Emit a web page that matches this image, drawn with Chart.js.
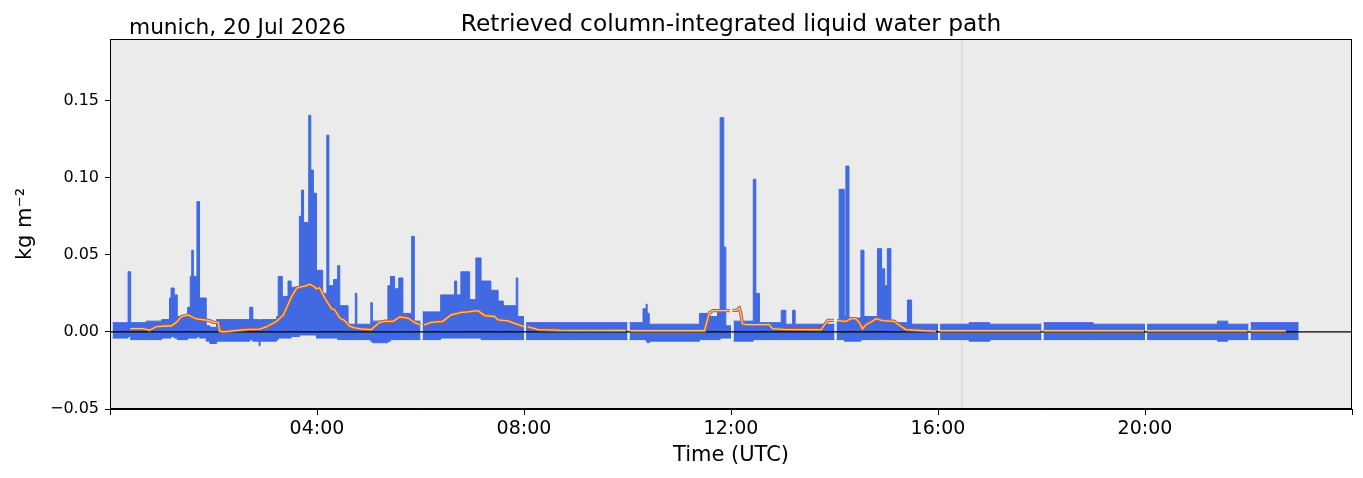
<!DOCTYPE html>
<html>
<head>
<meta charset="utf-8">
<script src="https://cdn.jsdelivr.net/npm/chart.js@4/dist/chart.umd.min.js"></script>
<style>
  html, body { margin: 0; padding: 0; background: #ffffff; }
  #wrap { width: 1363px; height: 478px; position: relative; }
  canvas { display: block; }
</style>
</head>
<body>
<div id="wrap"><canvas id="c" width="1363" height="478"></canvas></div>
<script>
// ---------------- DATA ----------------
const titleText = "Retrieved column-integrated liquid water path";
const siteText = "munich, 20 Jul 2026";
const xAxisLabel = "Time (UTC)";
const yAxisLabel = "kg m\u207B\u00B2";

const xTicks = [0, 4, 8, 12, 16, 20, 24];
const xTickLabels = ["", "04:00", "08:00", "12:00", "16:00", "20:00", ""];
const yTicks = [-0.05, 0.00, 0.05, 0.10, 0.15];
const yTickLabels = ["\u22120.05", "0.00", "0.05", "0.10", "0.15"];
const xRange = [0, 24];
const yRange = [-0.05, 0.19];

// marker line (hour)
const markerHour = [16.46];

// Envelope of the dense retrieval scatter (value holds from envT[i] until envT[i+1])
// envT in hours UTC; null = no data
const envT = [
  0.05, 0.35, 0.40, 0.70, 1.00, 1.15, 1.18, 1.24, 1.30, 1.50,
  1.55, 1.58, 1.61, 1.68, 1.73, 1.86, 1.93, 2.06, 2.70, 2.76,
  2.88, 2.90, 3.22, 3.25, 3.33, 3.44, 3.50, 3.66, 3.70, 3.74,
  3.84, 3.88, 3.93, 3.99, 4.11, 4.19, 4.23, 4.32, 4.40, 4.44,
  4.60, 4.74, 4.77, 5.04, 5.07, 5.37, 5.42, 5.50, 5.58, 5.66,
  5.83, 5.88, 6.00, 6.005, 6.04, 6.39, 6.66, 6.70, 6.78, 6.95,
  7.07, 7.17, 7.36, 7.50, 7.60, 7.85, 7.88, 8.00, 8.005, 8.04,
  9.00, 10.00, 10.005, 10.04, 10.30, 10.36, 10.38, 10.42, 11.39, 11.55,
  11.74, 11.79, 11.86, 11.90, 12.00, 12.005, 12.05, 12.43, 12.48, 12.55,
  12.97, 13.06, 13.19, 13.24, 14.00, 14.005, 14.04, 14.09, 14.19, 14.22,
  14.28, 14.51, 14.57, 14.83, 14.91, 14.93, 14.97, 15.02, 15.09, 15.41,
  15.49, 16.00, 16.005, 16.04, 16.60, 17.00, 18.00, 18.005, 18.04, 19.00,
  20.00, 20.005, 20.04, 21.40, 21.60, 22.00, 22.005, 22.04, 22.97
];
const envHi = [
  0.006, 0.039, 0.006, 0.007, 0.008, 0.022, 0.0285, 0.024, 0.010, 0.016,
  0.036, 0.053, 0.036, 0.0845, 0.022, 0.004, 0.003, 0.008, 0.016, 0.008,
  0.007, 0.008, 0.010, 0.036, 0.023, 0.033, 0.029, 0.075, 0.092, 0.071,
  0.1405, 0.105, 0.090, 0.040, 0.025, 0.1276, 0.030, 0.034, 0.043, 0.017,
  0.005, 0.025, 0.005, 0.019, 0.007, 0.030, 0.036, 0.028, 0.035, 0.012,
  0.062, 0.007, 0.007, null, 0.013, 0.024, 0.033, 0.024, 0.039, 0.021,
  0.048, 0.033, 0.027, 0.020, 0.017, 0.035, 0.010, 0.010, null, 0.006,
  0.006, 0.006, null, 0.006, 0.015, 0.018, 0.012, 0.005, 0.012, 0.010,
  0.013, 0.139, 0.055, 0.004, 0.004, null, 0.007, 0.099, 0.025, 0.006,
  0.014, 0.005, 0.014, 0.005, 0.005, null, 0.006, 0.0925, 0.010, 0.1076,
  0.009, 0.053, 0.010, 0.054, 0.030, 0.041, 0.030, 0.054, 0.006, 0.0207,
  0.005, 0.005, null, 0.005, 0.006, 0.005, 0.005, null, 0.006, 0.005,
  0.005, null, 0.005, 0.007, 0.005, 0.005, null, 0.006, 0.006
];
const envLo = [
  -0.004, -0.003, -0.005, -0.005, -0.004, -0.004, -0.003, -0.004, -0.005, -0.004,
  -0.004, -0.004, -0.004, -0.003, -0.004, -0.006, -0.0075, -0.006, -0.005, -0.006,
  -0.009, -0.006, -0.005, -0.004, -0.004, -0.004, -0.003, -0.002, -0.002, -0.002,
  -0.002, -0.002, -0.002, -0.004, -0.004, -0.004, -0.004, -0.004, -0.005, -0.005,
  -0.005, -0.005, -0.005, -0.006, -0.007, -0.006, -0.005, -0.005, -0.005, -0.005,
  -0.005, -0.005, -0.005, null, -0.005, -0.004, -0.004, -0.004, -0.004, -0.004,
  -0.004, -0.005, -0.005, -0.005, -0.005, -0.005, -0.005, -0.005, null, -0.005,
  -0.005, -0.005, null, -0.005, -0.005, -0.006, -0.007, -0.006, -0.005, -0.005,
  -0.005, -0.004, -0.004, -0.004, -0.004, null, -0.006, -0.005, -0.005, -0.005,
  -0.005, -0.005, -0.005, -0.005, -0.005, null, -0.005, -0.005, -0.006, -0.006,
  -0.006, -0.005, -0.005, -0.005, -0.005, -0.005, -0.005, -0.005, -0.005, -0.005,
  -0.005, -0.005, null, -0.005, -0.006, -0.005, -0.005, null, -0.005, -0.005,
  -0.005, null, -0.005, -0.006, -0.005, -0.005, null, -0.005, -0.005
];

// Running median line
const medT = [
  0.39, 0.64, 0.77, 0.90, 1.19, 1.29, 1.38, 1.51, 1.67, 1.93,
  1.99, 2.09, 2.12, 2.19, 2.44, 2.70, 2.89, 3.02, 3.22, 3.35,
  3.51, 3.61, 3.80, 3.86, 3.96, 3.99, 4.05, 4.15, 4.28, 4.34,
  4.44, 4.53, 4.63, 4.73, 4.86, 5.05, 5.21, 5.31, 5.47, 5.60,
  5.76, 5.89, 6.00, 6.02, 6.07, 6.21, 6.43, 6.59, 6.79, 6.92,
  7.11, 7.24, 7.43, 7.50, 7.69, 7.85, 8.00, 8.02, 8.07, 8.27,
  8.69, 9.97, 10.01, 10.05, 11.49, 11.58, 11.65, 11.98, 12.00, 12.03,
  12.11, 12.16, 12.19, 12.22, 12.29, 12.74, 12.80, 13.03, 13.74, 13.87,
  13.99, 14.01, 14.05, 14.22, 14.32, 14.41, 14.48, 14.54, 14.61, 14.74,
  14.80, 14.93, 15.15, 15.28, 15.38, 15.73, 15.96, 16.00, 16.04, 17.98,
  18.00, 18.04, 19.98, 20.00, 20.04, 21.98, 22.00, 22.04, 22.72
];
const medV = [
  0.0021, 0.0021, 0.0012, 0.0035, 0.0040, 0.0064, 0.0100, 0.0110, 0.0084, 0.0073,
  0.0062, 0.0062, 0.0006, 0.0000, 0.0010, 0.0017, 0.0018, 0.0032, 0.0069, 0.0110,
  0.0230, 0.0285, 0.0300, 0.0310, 0.0290, 0.0280, 0.0285, 0.0220, 0.0150, 0.0144,
  0.0090, 0.0075, 0.0037, 0.0026, 0.0020, 0.0015, 0.0062, 0.0069, 0.0069, 0.0097,
  0.0090, 0.0060, 0.0045, null, 0.0045, 0.0062, 0.0069, 0.0110, 0.0127, 0.0130,
  0.0138, 0.0106, 0.0100, 0.0078, 0.0071, 0.0052, 0.0035, null, 0.0034, 0.0015,
  0.0011, 0.0010, null, 0.0008, 0.0008, 0.0123, 0.0138, 0.0138, null, 0.0140,
  0.0140, 0.0155, 0.0120, 0.0054, 0.0047, 0.0047, 0.0021, 0.0017, 0.0015, 0.0075,
  0.0075, null, 0.0073, 0.0069, 0.0086, 0.0086, 0.0060, 0.0020, 0.0047, 0.0071,
  0.0086, 0.0073, 0.0069, 0.0037, 0.0015, 0.0009, 0.0005, null, 0.0008, 0.0008,
  null, 0.0008, 0.0008, null, 0.0008, 0.0008, null, 0.0008, 0.0008
];

// ---------------- CHART ----------------
const FONT = "'DejaVu Sans', 'Liberation Sans', sans-serif";
Chart.defaults.font.family = FONT;
Chart.defaults.color = '#000000';

const toXY = (ts, vs) => ts.map((t, i) => ({ x: t, y: vs[i] }));
const BLUE = '#4169e1';

const bgPlugin = {
  id: 'bgPlugin',
  beforeDraw(chart) {
    const { ctx, chartArea: a } = chart;
    ctx.save();
    ctx.fillStyle = '#ebebeb';
    ctx.fillRect(a.left, a.top, a.right - a.left, a.bottom - a.top);
    ctx.restore();
  },
  afterDraw(chart) {
    const { ctx, chartArea: a } = chart;
    ctx.save();
    ctx.strokeStyle = '#000000';
    ctx.lineWidth = 1;
    ctx.strokeRect(a.left + 0.5, a.top + 0.5, a.right - a.left - 1, a.bottom - a.top - 1);
    ctx.fillStyle = '#000000';
    ctx.textBaseline = 'alphabetic';
    ctx.font = "23.3px " + FONT;
    ctx.textAlign = 'center';
    ctx.fillText(titleText, (a.left + a.right) / 2, 31);
    ctx.font = "21.7px " + FONT;
    ctx.textAlign = 'left';
    ctx.fillText(siteText, 129, 34);
    ctx.restore();
  }
};

new Chart(document.getElementById('c'), {
  type: 'line',
  data: {
    datasets: [
      { // running median, inner light stroke
        data: toXY(medT, medV), borderColor: '#f2c39a', borderWidth: 1.3,
        pointRadius: 0, fill: false, spanGaps: false, order: 1, tension: 0
      },
      { // running median, dark outline
        data: toXY(medT, medV), borderColor: '#b8602d', borderWidth: 3.4,
        pointRadius: 0, fill: false, spanGaps: false, order: 2, tension: 0
      },
      { // zero line
        data: [{ x: xRange[0], y: 0 }, { x: xRange[1], y: 0 }],
        borderColor: '#000000', borderWidth: 1.2, pointRadius: 0, fill: false, order: 3
      },
      { // upper envelope of scatter
        data: toXY(envT, envHi), borderColor: BLUE, backgroundColor: BLUE,
        borderWidth: 1, pointRadius: 0, stepped: 'before', fill: 'origin',
        spanGaps: false, order: 4
      },
      { // lower envelope of scatter
        data: toXY(envT, envLo), borderColor: BLUE, backgroundColor: BLUE,
        borderWidth: 1, pointRadius: 0, stepped: 'before', fill: 'origin',
        spanGaps: false, order: 4
      },
      { // vertical marker line
        data: [{ x: markerHour[0], y: yRange[0] }, { x: markerHour[0], y: yRange[1] }],
        borderColor: '#d4d4d4', borderWidth: 1, pointRadius: 0, fill: false, order: 6
      }
    ]
  },
  options: {
    responsive: false,
    animation: false,
    devicePixelRatio: 1,
    layout: { padding: { left: 0, right: 11, top: 39, bottom: 0 } },
    plugins: { legend: { display: false }, tooltip: { enabled: false }, title: { display: false } },
    scales: {
      x: {
        type: 'linear', min: xRange[0], max: xRange[1],
        afterBuildTicks(scale) { scale.ticks = xTicks.map(v => ({ value: v })); },
        afterFit(scale) { scale.height = 69; },
        ticks: {
          autoSkip: false, maxRotation: 0, minRotation: 0, padding: 3,
          font: { size: 19 }, color: '#000000',
          callback(v) { const i = xTicks.indexOf(v); return i >= 0 ? xTickLabels[i] : ''; }
        },
        grid: { drawOnChartArea: false, drawTicks: true, tickLength: 6, color: '#000000', tickWidth: 1 },
        border: { display: true, color: '#000000', width: 1 },
        title: { display: true, text: xAxisLabel, font: { size: 21 }, color: '#000000', padding: { top: 0, bottom: 10 } }
      },
      y: {
        type: 'linear', min: yRange[0], max: yRange[1],
        afterBuildTicks(scale) { scale.ticks = yTicks.map(v => ({ value: v })); },
        afterFit(scale) { scale.width = 110; },
        ticks: {
          autoSkip: false, padding: 6, font: { size: 16 }, color: '#000000',
          callback(v) {
            const i = yTicks.findIndex(t => Math.abs(t - v) < 1e-9);
            return i >= 0 ? yTickLabels[i] : '';
          }
        },
        grid: { drawOnChartArea: false, drawTicks: true, tickLength: 5, color: '#000000', tickWidth: 1 },
        border: { display: true, color: '#000000', width: 1 },
        title: { display: true, text: yAxisLabel, font: { size: 21 }, color: '#000000', padding: { top: 13, bottom: 0 } }
      }
    }
  },
  plugins: [bgPlugin]
});
</script>
</body>
</html>
